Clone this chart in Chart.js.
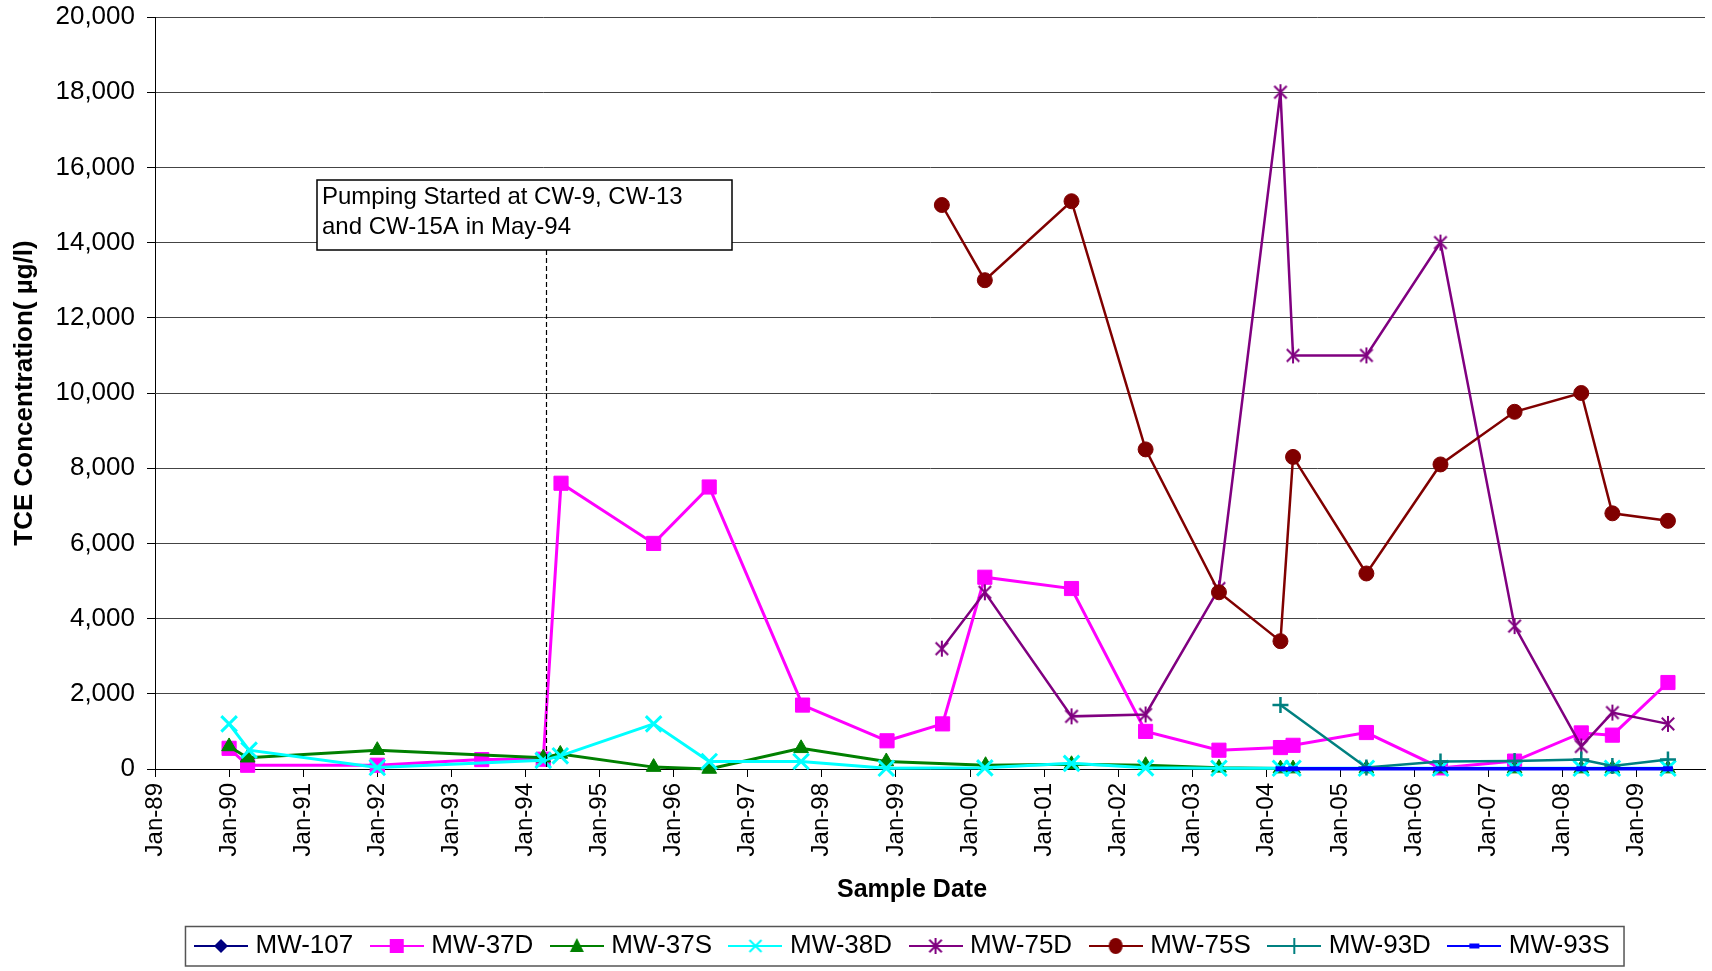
<!DOCTYPE html>
<html>
<head>
<meta charset="utf-8">
<title>TCE Concentration</title>
<script src="https://cdn.jsdelivr.net/npm/chart.js"></script>
<style>
  html, body { margin: 0; padding: 0; background: #fff; }
  #tceChart { display: block; }
</style>
</head>
<body>
<canvas id="tceChart" width="1712" height="971"></canvas>
<script>
// Sample dates are decimal years (1994.5 = mid 1994)
const tickYears = [1989, 1990, 1991, 1992, 1993, 1994, 1995, 1996, 1997, 1998, 1999,
  2000, 2001, 2002, 2003, 2004, 2005, 2006, 2007, 2008, 2009];
const tickLabels = ['Jan-89', 'Jan-90', 'Jan-91', 'Jan-92', 'Jan-93', 'Jan-94', 'Jan-95',
  'Jan-96', 'Jan-97', 'Jan-98', 'Jan-99', 'Jan-00', 'Jan-01', 'Jan-02', 'Jan-03', 'Jan-04',
  'Jan-05', 'Jan-06', 'Jan-07', 'Jan-08', 'Jan-09'];

const wellNames = ['MW-107', 'MW-37D', 'MW-37S', 'MW-38D', 'MW-75D', 'MW-75S', 'MW-93D', 'MW-93S'];

const mw107Dates = [];
const mw107Tce = [];

const mw37dDates = [1990.0, 1990.25, 1992.0, 1993.41, 1994.24, 1994.48, 1995.73, 1996.48, 1997.74,
  1998.88, 1999.63, 2000.2, 2001.37, 2002.37, 2003.36, 2004.19, 2004.36, 2005.35, 2006.35,
  2007.35, 2008.25, 2008.67, 2009.42];
const mw37dTce = [550, 100, 100, 250, 260, 7600, 6000, 7500, 1700, 750, 1200, 5100, 4800,
  1000, 500, 570, 630, 970, 30, 210, 960, 900, 2300];

const mw37sDates = [1990.0, 1990.25, 1992.0, 1994.24, 1994.47, 1995.73, 1996.48, 1997.72, 1998.87,
  2000.21, 2001.37, 2002.37, 2003.36, 2004.19, 2004.36, 2005.35, 2006.35, 2007.35, 2008.25,
  2008.67, 2009.42];
const mw37sTce = [600, 300, 500, 300, 400, 50, 0, 550, 200, 100, 125, 100, 30, 10, 10, 10, 10,
  10, 10, 10, 10];

const mw38dDates = [1990.0, 1990.27, 1992.0, 1994.24, 1994.47, 1995.73, 1996.48, 1997.72, 1998.87,
  2000.2, 2001.37, 2002.37, 2003.36, 2004.19, 2004.36, 2005.35, 2006.35, 2007.35, 2008.25,
  2008.67, 2009.42];
const mw38dTce = [1200, 500, 40, 230, 350, 1200, 200, 200, 20, 30, 150, 30, 20, 20, 20, 20, 20,
  20, 20, 20, 20];

const mw75dDates = [1999.62, 2000.2, 2001.37, 2002.37, 2003.36, 2004.19, 2004.36, 2005.35, 2006.35,
  2007.35, 2008.25, 2008.67, 2009.42];
const mw75dTce = [3200, 4700, 1400, 1450, 4800, 18000, 11000, 11000, 14000, 3800, 600, 1500, 1200];

const mw75sDates = [1999.62, 2000.2, 2001.37, 2002.37, 2003.36, 2004.19, 2004.36, 2005.35, 2006.35,
  2007.35, 2008.25, 2008.67, 2009.42];
const mw75sTce = [15000, 13000, 15100, 8500, 4700, 3400, 8300, 5200, 8100, 9500, 10000, 6800, 6600];

const mw93dDates = [2004.19, 2005.35, 2006.35, 2007.35, 2008.25, 2008.67, 2009.42];
const mw93dTce = [1700, 40, 200, 210, 250, 80, 250];

const mw93sDates = [2004.19, 2004.36, 2005.35, 2006.35, 2007.35, 2008.25, 2008.67, 2009.42];
const mw93sTce = [5, 5, 5, 5, 5, 5, 5, 5];

const pumpingStart = 1994.28;

Chart.defaults.font.family = '"Liberation Sans", Arial, sans-serif';
Chart.defaults.color = '#000';

const toPoints = (dates, values) => dates.map((d, i) => ({ x: d, y: values[i] }));

// Excel style "star": an X with a vertical bar through it
function starMarker(color, size, lw) {
  const c = document.createElement('canvas');
  c.width = c.height = size;
  const g = c.getContext('2d');
  const m = size / 2, r = size / 2 - 1, d = r * 0.78;
  g.strokeStyle = color;
  g.lineWidth = lw;
  g.beginPath();
  g.moveTo(m - d, m - d); g.lineTo(m + d, m + d);
  g.moveTo(m + d, m - d); g.lineTo(m - d, m + d);
  g.moveTo(m, m - r); g.lineTo(m, m + r);
  g.stroke();
  return c;
}

const star75d = starMarker('#800080', 18, 2);

const seriesStyles = [
  { color: '#000080', style: 'rectRot', radius: 7, width: 2.5, border: 1 },
  { color: '#FF00FF', style: 'rect', radius: 10, width: 3, border: 1 },
  { color: '#008000', style: 'triangle', radius: 8.5, width: 3, border: 1 },
  { color: '#00FFFF', style: 'crossRot', radius: 11, width: 3, border: 3 },
  { color: '#800080', style: star75d, radius: 9, width: 2.5, border: 2 },
  { color: '#800000', style: 'circle', radius: 7.5, width: 2.5, border: 1 },
  { color: '#008080', style: 'cross', radius: 8, width: 2.5, border: 2.5 },
  { color: '#0000FF', style: 'line', radius: 5, width: 3.5, border: 5 },
];

const seriesData = [
  toPoints(mw107Dates, mw107Tce),
  toPoints(mw37dDates, mw37dTce),
  toPoints(mw37sDates, mw37sTce),
  toPoints(mw38dDates, mw38dTce),
  toPoints(mw75dDates, mw75dTce),
  toPoints(mw75sDates, mw75sTce),
  toPoints(mw93dDates, mw93dTce),
  toPoints(mw93sDates, mw93sTce),
];

// Small line + marker swatch for each legend entry
function legendIcon(s) {
  const w = 54, h = 22, cx = w / 2, cy = h / 2;
  const c = document.createElement('canvas');
  c.width = w; c.height = h;
  const g = c.getContext('2d');
  g.strokeStyle = s.color;
  g.fillStyle = s.color;
  g.lineWidth = 2;
  g.beginPath(); g.moveTo(0, cy); g.lineTo(w, cy); g.stroke();
  const r = 7;
  g.beginPath();
  switch (s.style) {
    case 'rectRot':
      g.moveTo(cx, cy - r); g.lineTo(cx + r, cy); g.lineTo(cx, cy + r); g.lineTo(cx - r, cy);
      g.closePath(); g.fill(); break;
    case 'rect':
      g.fillRect(cx - 7, cy - 7, 14, 14); break;
    case 'triangle':
      g.moveTo(cx, cy - 8); g.lineTo(cx + 7, cy + 6); g.lineTo(cx - 7, cy + 6);
      g.closePath(); g.fill(); break;
    case 'crossRot':
      g.lineWidth = 2;
      g.moveTo(cx - 6, cy - 6); g.lineTo(cx + 6, cy + 6);
      g.moveTo(cx + 6, cy - 6); g.lineTo(cx - 6, cy + 6);
      g.stroke(); break;
    case 'circle':
      g.ellipse(cx, cy, 7, 8, 0, 0, Math.PI * 2); g.fill(); break;
    case 'cross':
      g.moveTo(cx, cy - 8); g.lineTo(cx, cy + 8); g.stroke(); break;
    case 'line':
      g.fillRect(cx - 5, cy - 2.5, 10, 5); break;
    default:
      g.drawImage(s.style, cx - s.style.width / 2, cy - s.style.height / 2);
  }
  return c;
}

const legendIcons = seriesStyles.map(legendIcon);

const datasets = wellNames.map((name, i) => {
  const s = seriesStyles[i];
  return {
    label: name,
    data: seriesData[i],
    borderColor: s.color,
    backgroundColor: s.color,
    borderWidth: s.width,
    pointStyle: s.style,
    pointRadius: s.radius,
    pointHoverRadius: s.radius,
    pointBackgroundColor: s.color,
    pointBorderColor: s.color,
    pointBorderWidth: s.border,
    tension: 0,
    clip: false,
    order: wellNames.length - i, // later wells are painted on top
  };
});

// Legend sits a little right of centre and has a frame round it
const legendFrame = {
  id: 'legendFrame',
  afterLayout(chart) {
    chart.legend.left += 52;
    chart.legend.right += 52;
  },
  afterDraw(chart) {
    const lg = chart.legend;
    const ctx = chart.ctx;
    const pad = lg.options.labels.padding;
    const x0 = (lg.left + pad + lg.right - lg.lineWidths[0]) / 2;
    const x1 = x0 + lg.lineWidths[0] - pad;
    const cy = lg.top + pad + 13;
    ctx.save();
    ctx.strokeStyle = '#555';
    ctx.lineWidth = 1.5;
    ctx.strokeRect(x0 - 14, cy - 19.5, x1 - x0 + 28.5, 39.5);
    ctx.restore();
  }
};

// x axis title, set a little left of the plot centre
const xAxisTitle = {
  id: 'xAxisTitle',
  afterDraw(chart) {
    const { ctx, chartArea } = chart;
    ctx.save();
    ctx.fillStyle = '#000';
    ctx.font = 'bold 25px "Liberation Sans", Arial, sans-serif';
    ctx.textAlign = 'center';
    ctx.textBaseline = 'middle';
    ctx.fillText('Sample Date', (chartArea.left + chartArea.right) / 2 - 18, chartArea.bottom + 121);
    ctx.restore();
  }
};

// Dashed marker for the start of pumping plus its text box
const pumpingNote = {
  id: 'pumpingNote',
  afterDatasetsDraw(chart) {
    const { ctx, chartArea, scales: { x } } = chart;
    const lx = Math.round(x.getPixelForValue(pumpingStart)) + 0.5;
    const boxL = lx - 229.5, boxT = chartArea.top + 163, boxW = 415, boxH = 70;
    ctx.save();
    ctx.strokeStyle = '#000';
    ctx.lineWidth = 1.2;
    ctx.setLineDash([5, 3]);
    ctx.beginPath();
    ctx.moveTo(lx, boxT + boxH);
    ctx.lineTo(lx, chartArea.bottom);
    ctx.stroke();
    ctx.setLineDash([]);
    ctx.fillStyle = '#fff';
    ctx.fillRect(boxL, boxT, boxW, boxH);
    ctx.lineWidth = 1.5;
    ctx.strokeRect(boxL, boxT, boxW, boxH);
    ctx.fillStyle = '#000';
    ctx.font = '24px "Liberation Sans", Arial, sans-serif';
    ctx.textBaseline = 'middle';
    ctx.fillText('Pumping Started at CW-9, CW-13', boxL + 5, boxT + 17);
    ctx.fillText('and CW-15A in May-94', boxL + 5, boxT + 47);
    ctx.restore();
  }
};

new Chart(document.getElementById('tceChart'), {
  type: 'line',
  data: { datasets },
  options: {
    responsive: false,
    animation: false,
    layout: {
      autoPadding: false,
      padding: { top: 17, right: 7, bottom: 2, left: 0 },
    },
    scales: {
      x: {
        type: 'linear',
        min: 1989,
        max: 2009.92,
        afterFit: (s) => {
          s.height = 142;
          s.paddingLeft = 0;
          s.paddingRight = 0;
        },
        afterBuildTicks: (s) => { s.ticks = tickYears.map((v) => ({ value: v })); },
        ticks: {
          autoSkip: false,
          minRotation: 90,
          maxRotation: 90,
          padding: 6,
          font: { size: 24 },
          callback: (v, i) => tickLabels[i],
        },
        grid: { drawOnChartArea: false, tickLength: 8, tickColor: '#000', color: '#000' },
        border: { color: '#000', width: 1 },
      },
      y: {
        min: 0,
        max: 20000,
        afterFit: (s) => {
          s.width = 155;
          s.paddingTop = 0;
          s.paddingBottom = 0;
        },
        ticks: { stepSize: 2000, padding: 12, font: { size: 26 } },
        grid: { color: '#444', lineWidth: 1, tickLength: 8, tickColor: '#000' },
        border: { color: '#000', width: 1 },
        title: {
          display: true,
          text: 'TCE Concentration( µg/l)',
          font: { size: 26, weight: 'bold' },
          padding: { top: 9, bottom: 0 },
        },
      },
    },
    plugins: {
      tooltip: { enabled: false },
      legend: {
        position: 'bottom',
        labels: {
          usePointStyle: true,
          pointStyleWidth: 43,
          boxHeight: 26,
          padding: 22,
          font: { size: 26 },
          sort: (a, b) => a.datasetIndex - b.datasetIndex,
          generateLabels: (chart) =>
            Chart.defaults.plugins.legend.labels.generateLabels(chart)
              .map((item) => ({ ...item, pointStyle: legendIcons[item.datasetIndex] })),
        },
      },
    },
  },
  plugins: [legendFrame, xAxisTitle, pumpingNote],
});
</script>
</body>
</html>
